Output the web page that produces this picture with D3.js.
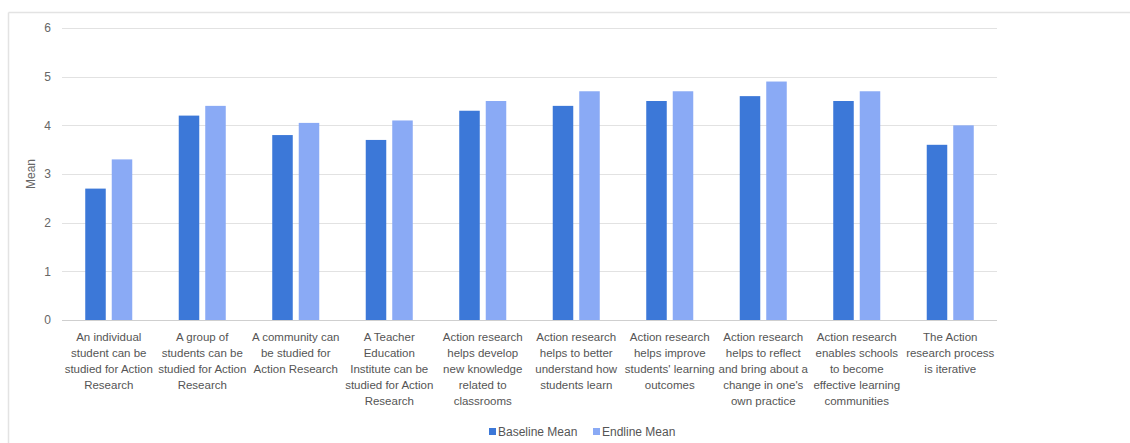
<!DOCTYPE html>
<html>
<head>
<meta charset="utf-8">
<script src="https://cdn.jsdelivr.net/npm/d3@7"></script>
<style>
  html, body { margin: 0; padding: 0; background: #fff; }
  svg { display: block; font-family: "Liberation Sans", Arial, sans-serif; }
</style>
</head>
<body>
<svg id="chart" width="1130" height="443"></svg>
<script>
// Survey statements (x-axis categories), one line per entry
const categories = [
  ["An individual", "student can be", "studied for Action", "Research"],
  ["A group of", "students can be", "studied for Action", "Research"],
  ["A community can", "be studied for", "Action Research"],
  ["A Teacher", "Education", "Institute can be", "studied for Action", "Research"],
  ["Action research", "helps develop", "new knowledge", "related to", "classrooms"],
  ["Action research", "helps to better", "understand how", "students learn"],
  ["Action research", "helps improve", "students' learning", "outcomes"],
  ["Action research", "helps to reflect", "and bring about a", "change in one's", "own practice"],
  ["Action research", "enables schools", "to become", "effective learning", "communities"],
  ["The Action", "research process", "is iterative"]
];

const baselineMean = [2.7, 4.2, 3.8, 3.7, 4.3, 4.4, 4.5, 4.6, 4.5, 3.6];
const endlineMean  = [3.3, 4.4, 4.05, 4.1, 4.5, 4.7, 4.7, 4.9, 4.7, 4.0];

const seriesNames = ["Baseline Mean", "Endline Mean"];
const yTicks = [0, 1, 2, 3, 4, 5, 6];

const colors = ["#3c78d8", "#8aaaf5"];

const svg = d3.select("#chart");

// outer frame: top and left edges only
svg.append("line").attr("x1", 8.5).attr("x2", 1130).attr("y1", 12.5).attr("y2", 12.5)
  .attr("stroke", "#e3e3e3").attr("stroke-width", 1.5);
svg.append("line").attr("x1", 8.5).attr("x2", 8.5).attr("y1", 12.5).attr("y2", 443)
  .attr("stroke", "#e3e3e3").attr("stroke-width", 1.5);

const plot = { left: 62, right: 997, top: 28, bottom: 320 };

const x0 = d3.scaleBand()
  .domain(d3.range(categories.length))
  .range([plot.left, plot.right])
  .paddingInner(0).paddingOuter(0);

const x1 = d3.scaleBand()
  .domain([0, 1])
  .range([0, x0.bandwidth()])
  .paddingInner(0.226)
  .paddingOuter(0.877);

const y = d3.scaleLinear().domain([0, 6]).range([plot.bottom, plot.top]);

// gridlines
svg.append("g").selectAll("line").data(yTicks).join("line")
  .attr("x1", plot.left).attr("x2", plot.right)
  .attr("y1", d => Math.round(y(d)) + 0.5).attr("y2", d => Math.round(y(d)) + 0.5)
  .attr("stroke", d => d === 0 ? "#cfcfcf" : "#e2e2e2")
  .attr("stroke-width", 1);

// y tick labels
svg.append("g").selectAll("text").data(yTicks).join("text")
  .attr("x", 51).attr("y", d => y(d))
  .attr("dy", "0.35em")
  .attr("text-anchor", "end")
  .attr("font-size", 12).attr("fill", "#666")
  .text(d => d);

// y axis title
svg.append("text")
  .attr("transform", `translate(35,${(plot.top + plot.bottom) / 2}) rotate(-90)`)
  .attr("text-anchor", "middle")
  .attr("font-size", 12).attr("fill", "#666")
  .text("Mean");

// bars
const series = [baselineMean, endlineMean];
const groups = svg.append("g").selectAll("g").data(categories).join("g")
  .attr("transform", (d, i) => `translate(${x0(i)},0)`);

groups.selectAll("rect")
  .data((d, i) => series.map((s, k) => ({ k, v: s[i] })))
  .join("rect")
  .attr("x", d => x1(d.k))
  .attr("width", x1.bandwidth())
  .attr("y", d => y(d.v))
  .attr("height", d => y(0) - y(d.v))
  .attr("fill", d => colors[d.k]);

// category labels
const lab = svg.append("g").selectAll("text").data(categories).join("text")
  .attr("x", (d, i) => x0(i) + x0.bandwidth() / 2)
  .attr("y", 341)
  .attr("text-anchor", "middle")
  .attr("font-size", 11.5).attr("fill", "#555");
lab.selectAll("tspan").data(d => d).join("tspan")
  .attr("x", function () { return this.parentNode.getAttribute("x"); })
  .attr("dy", (d, j) => j === 0 ? 0 : 16)
  .text(d => d);

// legend
const legendX = [489, 593];
const leg = svg.append("g").selectAll("g").data(seriesNames).join("g")
  .attr("transform", (d, i) => `translate(${legendX[i]},432)`);
leg.append("rect").attr("x", 0).attr("y", -4).attr("width", 7).attr("height", 7)
  .attr("fill", (d, i) => colors[i]);
leg.append("text").attr("x", 9).attr("y", 0).attr("dy", "0.35em")
  .attr("font-size", 12).attr("fill", "#555")
  .text(d => d);
</script>
</body>
</html>
